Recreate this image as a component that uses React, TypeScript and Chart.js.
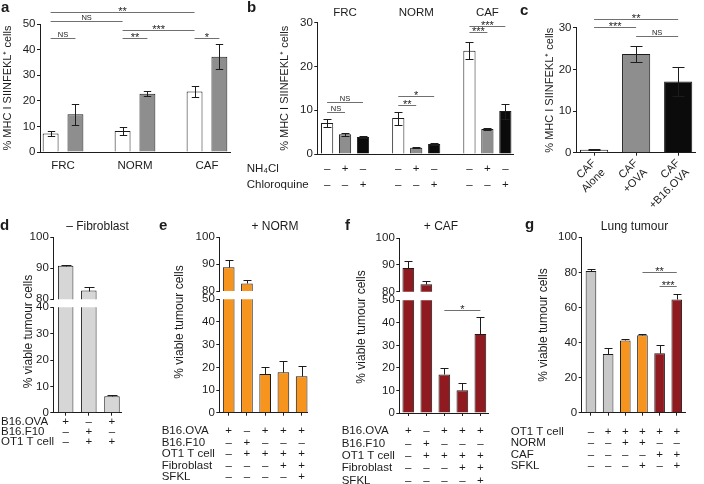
import React, { useEffect, useRef } from 'react';
import { Chart, registerables } from 'chart.js';

Chart.register(...registerables);

const FONT = "'Liberation Sans', Arial, Helvetica, sans-serif";
const INK = '#1c1c1c';
const SIG_INK = '#707070';
Chart.defaults.font.family = FONT;
Chart.defaults.color = INK;

const WHITE = '#ffffff';
const GREY = '#8e8e8e';
const BLACK = '#0b0b0b';
const LIGHT = '#d6d6d6';
const GREY_G = '#c8c8c8';
const ORANGE = '#f7941d';
const RED = '#8f1b20';

// ---------------- DATA ----------------
const MHC_TITLE = '% MHC I SIINFEKL\u207A cells';
const VIABLE_TITLE = '% viable tumour cells';

// a
const aCategories = ['FRC', 'NORM', 'CAF'];
const aYTicks = [0, 10, 20, 30, 40, 50];
const aControl = [7.2, 8.2, 23.6];
const aControlErr = [1.1, 1.5, 2.0];
const aOva = [14.7, 22.8, 37.2];
const aOvaErr = [4.0, 0.85, 4.8];
const aSig = [
  { from: [0, 0], to: [1, 0], y: 44.4, label: 'NS' },
  { from: [0, 1], to: [1, 1], y: 44.4, label: '**' },
  { from: [0, 2], to: [1, 2], y: 44.4, label: '*' },
  { from: [0, 1], to: [0, 2], y: 47.7, label: '***' },
  { from: [0, 0], to: [0, 1], y: 51.2, label: 'NS' },
  { from: [0, 0], to: [0, 2], y: 54.6, label: '**' },
];

// b
const bGroups = ['FRC', 'NORM', 'CAF'];
const bYTicks = [0, 10, 20, 30];
const bUntreated = [7.1, 8.2, 23.6];
const bUntreatedErr = [1.0, 1.5, 2.0];
const bNH4Cl = [4.5, 1.4, 5.7];
const bNH4ClErr = [0.3, 0.1, 0.15];
const bChloroquine = [3.9, 2.3, 9.8];
const bChloroquineErr = [0.15, 0.2, 1.7];
const bNH4ClSigns = ['\u2013', '+', '\u2013'];
const bChloroquineSigns = ['\u2013', '\u2013', '+'];
const bSig = [
  { from: [0, 0], to: [1, 0], y: 9.5, label: 'NS' },
  { from: [0, 0], to: [2, 0], y: 11.8, label: 'NS' },
  { from: [0, 1], to: [1, 1], y: 11.3, label: '**' },
  { from: [0, 1], to: [2, 1], y: 13.3, label: '*' },
  { from: [0, 2], to: [1, 2], y: 27.9, label: '***' },
  { from: [0, 2], to: [2, 2], y: 29.3, label: '***' },
];

// c
const cLabels = [['CAF', 'Alone'], ['CAF', '+OVA'], ['CAF', '+B16.OVA']];
const cYTicks = [0, 10, 20, 30];
const cValues = [0.7, 23.7, 17.1];
const cErr = [0.15, 2.0, 3.5];
const cSig = [
  { from: [0, 0], to: [0, 1], y: 30.1, label: '***' },
  { from: [0, 0], to: [0, 2], y: 32.2, label: '**' },
  { from: [0, 1], to: [0, 2], y: 28.1, label: 'NS' },
];

// d
const dTopTicks = [80, 90, 100];
const dBottomTicks = [0, 10, 20, 30, 40];
const dValues = [90.8, 82.8, 6.2];
const dErr = [0.3, 1.2, 0.5];
const dRows = [
  { label: 'B16.OVA', signs: ['+', '\u2013', '+'] },
  { label: 'B16.F10', signs: ['\u2013', '+', '\u2013'] },
  { label: 'OT1 T cell', signs: ['\u2013', '+', '+'] },
];

// e
const eTopTicks = [80, 90, 100];
const eBottomTicks = [0, 10, 20, 30, 40, 50];
const eValues = [88.8, 82.8, 17.1, 17.8, 16.1];
const eErr = [2.6, 1.3, 2.9, 4.8, 4.6];
const efRows = [
  { label: 'B16.OVA', signs: ['+', '\u2013', '+', '+', '+'] },
  { label: 'B16.F10', signs: ['\u2013', '+', '\u2013', '\u2013', '\u2013'] },
  { label: 'OT1 T cell', signs: ['\u2013', '+', '+', '+', '+'] },
  { label: 'Fibroblast', signs: ['\u2013', '\u2013', '\u2013', '+', '+'] },
  { label: 'SFKL', signs: ['\u2013', '\u2013', '\u2013', '\u2013', '+'] },
];

// f
const fValues = [88.8, 82.8, 17.1, 10.1, 35.1];
const fErr = [2.6, 1.3, 2.9, 3.3, 7.4];
const fSig = [{ from: [0, 2], to: [0, 4], y: 45.8, label: '*' }];

// g
const gYTicks = [0, 20, 40, 60, 80, 100];
const gValues = [80.8, 33.5, 41.2, 44.1, 33.9, 64.6];
const gErr = [1.2, 3.2, 1.0, 0.7, 4.9, 2.9];
const gColors = [GREY_G, GREY_G, ORANGE, ORANGE, RED, RED];
const gRows = [
  { label: 'OT1 T cell', signs: ['\u2013', '+', '+', '+', '+', '+'] },
  { label: 'NORM', signs: ['\u2013', '\u2013', '+', '+', '\u2013', '\u2013'] },
  { label: 'CAF', signs: ['\u2013', '\u2013', '\u2013', '\u2013', '+', '+'] },
  { label: 'SFKL', signs: ['\u2013', '\u2013', '\u2013', '+', '\u2013', '+'] },
];
const gSig = [
  { from: [0, 3], to: [0, 5], y: 80, label: '**' },
  { from: [0, 4], to: [0, 5], y: 72.2, label: '***' },
];

// ---------------- PLUGINS ----------------
type BarRef = number[];
type Sig = { from: BarRef; to: BarRef; y: number; label: string };
type Row = { label: string; signs: string[] };

const barX = (chart: any, r: BarRef) => chart.getDatasetMeta(r[0]).data[r[1]].x;

const errorBarPlugin = (errs: number[][], capHalf: number, both: boolean) => ({
  id: 'errorBars',
  afterDatasetsDraw(chart: any) {
    const ctx = chart.ctx;
    ctx.save();
    ctx.strokeStyle = INK;
    ctx.lineWidth = 1;
    chart.data.datasets.forEach((ds: any, di: number) => {
      const meta = chart.getDatasetMeta(di);
      const ys = chart.scales[meta.yAxisID];
      ds.data.forEach((v: number, i: number) => {
        const e = errs[di][i];
        if (v < ys.min || v > ys.max) return;
        const x = Math.round(meta.data[i].x) + 0.5;
        const yTop = Math.round(ys.getPixelForValue(v + e)) + 0.5;
        const yBot = Math.round(ys.getPixelForValue(both ? v - e : v)) + 0.5;
        ctx.beginPath();
        ctx.moveTo(x, yBot);
        ctx.lineTo(x, yTop);
        ctx.moveTo(x - capHalf, yTop);
        ctx.lineTo(x + capHalf, yTop);
        if (both) {
          ctx.moveTo(x - capHalf, yBot);
          ctx.lineTo(x + capHalf, yBot);
        }
        ctx.stroke();
      });
    });
    ctx.restore();
  },
});

const sigPlugin = (sigs: Sig[], nsSize = 7.5, starSize = 11) => ({
  id: 'sig',
  afterDraw(chart: any) {
    const ctx = chart.ctx;
    ctx.save();
    sigs.forEach((s) => {
      const ys = chart.scales.y;
      const y = Math.round(ys.getPixelForValue(s.y)) + 0.5;
      const xa = barX(chart, s.from);
      const xb = barX(chart, s.to);
      ctx.strokeStyle = SIG_INK;
      ctx.lineWidth = 1;
      ctx.beginPath();
      ctx.moveTo(xa, y);
      ctx.lineTo(xb, y);
      ctx.stroke();
      const star = s.label.includes('*');
      ctx.fillStyle = INK;
      ctx.font = `${star ? starSize : nsSize}px ${FONT}`;
      ctx.textAlign = 'center';
      ctx.textBaseline = 'alphabetic';
      ctx.fillText(s.label, (xa + xb) / 2, y + (star ? 2.5 : -1.5));
    });
    ctx.restore();
  },
});

const tablePlugin = (rows: Row[], order: BarRef[], labelX: number, firstRow: number, gap: number, size: number) => ({
  id: 'table',
  afterDraw(chart: any) {
    const ctx = chart.ctx;
    ctx.save();
    ctx.fillStyle = INK;
    ctx.textBaseline = 'middle';
    ctx.font = `${size}px ${FONT}`;
    const base = chart.chartArea.bottom;
    rows.forEach((r, ri) => {
      const y = base + firstRow + ri * gap;
      ctx.textAlign = 'left';
      ctx.fillText(r.label, labelX, y);
      ctx.textAlign = 'center';
      r.signs.forEach((s, k) => {
        ctx.fillText(s, barX(chart, order[k]), y);
      });
    });
    ctx.restore();
  },
});

const groupTitlePlugin = (names: string[], y: number, size: number) => ({
  id: 'groupTitles',
  afterDraw(chart: any) {
    const ctx = chart.ctx;
    ctx.save();
    ctx.fillStyle = INK;
    ctx.textBaseline = 'middle';
    ctx.textAlign = 'center';
    ctx.font = `${size}px ${FONT}`;
    names.forEach((n, i) => ctx.fillText(n, chart.scales.x.getPixelForValue(i), y));
    ctx.restore();
  },
});

// y-axis title shared by the two halves of a broken axis
const vTitlePlugin = (text: string, cx: number, cy: number, size: number) => ({
  id: 'vTitle',
  afterDraw(chart: any) {
    const ctx = chart.ctx;
    ctx.save();
    ctx.fillStyle = INK;
    ctx.font = `${size}px ${FONT}`;
    ctx.translate(cx, cy);
    ctx.rotate(-Math.PI / 2);
    ctx.textAlign = 'center';
    ctx.textBaseline = 'middle';
    ctx.fillText(text, 0, 0);
    ctx.restore();
  },
});

// ---------------- CONFIG BUILDER ----------------
const idx = (arr: any[]) => arr.map((_, i) => i);

function makeBar(o: any) {
  const yTicks: number[] = o.yTicks;
  return {
    type: 'bar',
    data: { labels: o.labels, datasets: o.datasets },
    options: {
      responsive: false,
      animation: false,
      devicePixelRatio: 1,
      events: [],
      layout: { padding: o.pad },
      plugins: { legend: { display: false }, tooltip: { enabled: false } },
      scales: {
        x: {
          type: 'linear',
          min: o.xMin,
          max: o.xMax,
          offset: false,
          display: o.xDisplay !== false,
          afterBuildTicks: (s: any) => {
            s.ticks = o.labels.map((v: number) => ({ value: v }));
          },
          afterFit: (s: any) => {
            s.height = o.xHeight;
            s.paddingLeft = 0;
            s.paddingRight = 0;
          },
          grid: {
            display: !!o.xTickMarks,
            offset: false,
            drawOnChartArea: false,
            drawTicks: true,
            tickLength: 3,
            color: INK,
          },
          border: { display: true, color: INK, width: 1 },
          ticks: {
            display: !!o.xLabel,
            callback: (v: number) => (o.xLabel ? o.xLabel(v) : ''),
            font: { size: o.xFont || 11 },
            color: INK,
            padding: o.xPad ?? 4,
            minRotation: o.xRot || 0,
            maxRotation: o.xRot || 0,
            autoSkip: false,
          },
        },
        y: {
          type: 'linear',
          min: yTicks[0],
          max: yTicks[yTicks.length - 1],
          afterBuildTicks: (s: any) => {
            s.ticks = yTicks.map((v) => ({ value: v }));
          },
          afterFit: (s: any) => {
            s.width = o.yWidth;
            s.paddingTop = 0;
            s.paddingBottom = 0;
          },
          grid: { display: true, drawOnChartArea: false, drawTicks: true, tickLength: 3, color: INK },
          border: { display: true, color: INK, width: 1 },
          ticks: { font: { size: o.font }, color: INK, padding: 1.5 },
          title: o.yTitle
            ? { display: true, text: o.yTitle, font: { size: o.titleFont || o.font }, color: INK, padding: { top: o.titlePad, bottom: 0 } }
            : { display: false },
        },
      },
    },
    plugins: o.plugins || [],
  };
}

const bar = (data: number[], color: any, clip: any = false, label = '') => ({
  label,
  data,
  backgroundColor: color,
  borderColor: INK,
  borderWidth: 1,
  categoryPercentage: 1,
  barPercentage: 0.67,
  clip,
});

const CLIP_TOP_PART = { top: false, left: false, right: false, bottom: 0 };
const CLIP_BOTTOM_PART = { top: 0, left: false, right: false, bottom: false };

// ---------------- PANELS ----------------
type Item = { box: { x: number; y: number; w: number; h: number }; make: () => any };

const panelA: Item = {
  box: { x: 0, y: 0, w: 240, h: 180 },
  make: () =>
    makeBar({
      labels: idx(aCategories),
      datasets: [
        { ...bar(aControl, WHITE, false, 'Control'), categoryPercentage: 0.69, barPercentage: 0.64 },
        { ...bar(aOva, GREY, false, 'OVA'), categoryPercentage: 0.69, barPercentage: 0.64 },
      ],
      xMin: -0.32,
      xMax: 2.32,
      yTicks: aYTicks,
      pad: { left: 0, top: 24, right: 10, bottom: 8 },
      yWidth: 40,
      xHeight: 20,
      xLabel: (v: number) => aCategories[v],
      xFont: 11.5,
      xPad: 4,
      font: 11.5,
      titleFont: 11,
      yTitle: MHC_TITLE,
      titlePad: 1.1,
      plugins: [errorBarPlugin([aControlErr, aOvaErr], 3.7, true), sigPlugin(aSig as Sig[])],
    }),
};

const bOrder: BarRef[] = [];
bGroups.forEach((_, g) => [0, 1, 2].forEach((d) => bOrder.push([d, g])));
const bRows: Row[] = [
  { label: 'NH\u2084Cl', signs: bGroups.flatMap(() => bNH4ClSigns) },
  { label: 'Chloroquine', signs: bGroups.flatMap(() => bChloroquineSigns) },
];

const panelB: Item = {
  box: { x: 240, y: 0, w: 280, h: 200 },
  make: () =>
    makeBar({
      labels: idx(bGroups),
      datasets: [
        { ...bar(bUntreated, WHITE, false, 'Untreated'), categoryPercentage: 0.757, barPercentage: 0.68 },
        { ...bar(bNH4Cl, GREY, false, 'NH4Cl'), categoryPercentage: 0.757, barPercentage: 0.68 },
        { ...bar(bChloroquine, BLACK, false, 'Chloroquine'), categoryPercentage: 0.757, barPercentage: 0.68 },
      ],
      xMin: -0.39,
      xMax: 2.36,
      yTicks: bYTicks,
      pad: { left: 37.4, top: 22.7, right: 7, bottom: 40 },
      yWidth: 39.9,
      xHeight: 6,
      font: 11.5,
      titleFont: 11,
      yTitle: MHC_TITLE,
      titlePad: 0.7,
      plugins: [
        errorBarPlugin([bUntreatedErr, bNH4ClErr, bChloroquineErr], 4, true),
        sigPlugin(bSig as Sig[]),
        tablePlugin(bRows, bOrder, 6.7, 14.7, 16.6, 11.5),
        groupTitlePlugin(bGroups, 13, 11.5),
      ],
    }),
};

const panelC: Item = {
  box: { x: 520, y: 0, w: 184, h: 230 },
  make: () =>
    makeBar({
      labels: idx(cLabels),
      datasets: [{ ...bar(cValues, [WHITE, GREY, BLACK], false, 'CAF'), barPercentage: 0.67 }],
      xMin: -0.43,
      xMax: 2.4,
      yTicks: cYTicks,
      pad: { left: 22.4, top: 27.7, right: 9, bottom: 17.3 },
      yWidth: 33.6,
      xHeight: 60,
      xTickMarks: true,
      xLabel: (v: number) => cLabels[v],
      xFont: 11,
      xPad: 1,
      xRot: 45,
      font: 11.5,
      titleFont: 11,
      yTitle: MHC_TITLE,
      titlePad: 0.7,
      plugins: [errorBarPlugin([cErr], 6, true), sigPlugin(cSig as Sig[])],
    }),
};

function brokenPanel(p: any): Item[] {
  const common = {
    labels: idx(p.values),
    xMin: p.xMin,
    xMax: p.xMax,
    yWidth: p.yWidth,
    font: 11.5,
  };
  const ds = (clip: any) => [{ ...bar(p.values, p.color, clip, 'viable'), barPercentage: p.barPct }];
  const order = p.values.map((_: number, i: number) => [0, i]);
  return [
    {
      box: p.box,
      make: () =>
        makeBar({
          ...common,
          datasets: ds(CLIP_TOP_PART),
          yTicks: p.topTicks,
          pad: p.topPad,
          xDisplay: false,
          xHeight: 0,
          plugins: [errorBarPlugin([p.err], p.cap, false)],
        }),
    },
    {
      box: p.box,
      make: () =>
        makeBar({
          ...common,
          datasets: ds(CLIP_BOTTOM_PART),
          yTicks: p.bottomTicks,
          pad: p.bottomPad,
          xHeight: 4,
          xTickMarks: true,
          plugins: [
            errorBarPlugin([p.err], p.cap, false),
            tablePlugin(p.rows, order, p.labelX, p.firstRow, p.gap, 11.5),
            vTitlePlugin(VIABLE_TITLE, p.titleX, p.titleY, 12),
            ...(p.sig ? [sigPlugin(p.sig)] : []),
          ],
        }),
    },
  ];
}

const panelD = brokenPanel({
  values: dValues,
  err: dErr,
  color: LIGHT,
  rows: dRows,
  topTicks: dTopTicks,
  bottomTicks: dBottomTicks,
  xMin: -0.534,
  xMax: 2.42,
  yWidth: 53.3,
  barPct: 0.67,
  cap: 5,
  box: { x: 0, y: 226, w: 130, h: 258 },
  topPad: { left: 0, top: 11, right: 8.3, bottom: 184.7 },
  bottomPad: { left: 0, top: 81.3, right: 8.3, bottom: 67.3 },
  labelX: 1,
  firstRow: 9.5,
  gap: 10,
  titleX: 29,
  titleY: 105.5,
});

const panelE = brokenPanel({
  values: eValues,
  err: eErr,
  color: ORANGE,
  rows: efRows,
  topTicks: eTopTicks,
  bottomTicks: eBottomTicks,
  xMin: -0.515,
  xMax: 4.31,
  yWidth: 30,
  barPct: 0.64,
  cap: 4,
  box: { x: 155, y: 226, w: 155, h: 258 },
  topPad: { left: 34.3, top: 11, right: 2.7, bottom: 193 },
  bottomPad: { left: 34.3, top: 73.3, right: 2.7, bottom: 67.3 },
  labelX: 6.7,
  firstRow: 18.6,
  gap: 11.4,
  titleX: 25,
  titleY: 96,
});

const panelF = brokenPanel({
  values: fValues,
  err: fErr,
  color: RED,
  rows: efRows,
  topTicks: eTopTicks,
  bottomTicks: eBottomTicks,
  xMin: -0.5,
  xMax: 4.44,
  yWidth: 30,
  barPct: 0.65,
  cap: 4,
  box: { x: 335, y: 226, w: 160, h: 258 },
  topPad: { left: 34.3, top: 12, right: 6.7, bottom: 192.3 },
  bottomPad: { left: 34.3, top: 74.3, right: 6.7, bottom: 67 },
  labelX: 6.7,
  firstRow: 18.3,
  gap: 12.3,
  titleX: 26.7,
  titleY: 101,
  sig: fSig,
});

const panelG: Item = {
  box: { x: 505, y: 226, w: 199, h: 258 },
  make: () =>
    makeBar({
      labels: idx(gValues),
      datasets: [{ ...bar(gValues, gColors, false, 'viable'), barPercentage: 0.62 }],
      xMin: -0.54,
      xMax: 5.48,
      yTicks: gYTicks,
      pad: { left: 31.1, top: 11.3, right: 19, bottom: 67.3 },
      yWidth: 45.6,
      xHeight: 4,
      xTickMarks: true,
      font: 11.5,
      titleFont: 12,
      yTitle: VIABLE_TITLE,
      titlePad: 0,
      plugins: [
        errorBarPlugin([gErr], 4, false),
        tablePlugin(gRows, gValues.map((_, i) => [0, i]), 5.7, 19.3, 11.2, 11.5),
        sigPlugin(gSig as Sig[]),
      ],
    }),
};

const ITEMS: Item[] = [panelA, panelB, panelC, ...panelD, ...panelE, ...panelF, panelG];

// ---------------- HTML TEXT ----------------
const LETTERS = [
  { t: 'a', x: 1, b: 12 },
  { t: 'b', x: 247, b: 12 },
  { t: 'c', x: 520, b: 14.5 },
  { t: 'd', x: 0, b: 229.5 },
  { t: 'e', x: 159, b: 229.5 },
  { t: 'f', x: 345, b: 229.5 },
  { t: 'g', x: 525, b: 229 },
];
const TITLES = [
  { t: '\u2013 Fibroblast', x: 97.5, b: 230.5 },
  { t: '+ NORM', x: 275, b: 230.5 },
  { t: '+ CAF', x: 441, b: 230.5 },
  { t: 'Lung tumour', x: 634.5, b: 230.5 },
];

function ChartCanvas({ item }: { item: Item }) {
  const ref = useRef<HTMLCanvasElement>(null);
  useEffect(() => {
    const chart = new Chart(ref.current as HTMLCanvasElement, item.make());
    return () => chart.destroy();
  }, []);
  const { x, y, w, h } = item.box;
  return (
    <canvas
      ref={ref}
      width={w}
      height={h}
      style={{ position: 'absolute', left: x, top: y, width: w, height: h }}
    />
  );
}

function Txt({ t, x, b, size, bold, center }: any) {
  return (
    <div
      style={{
        position: 'absolute',
        left: x,
        top: b - 0.8465 * size,
        fontSize: size,
        lineHeight: `${size}px`,
        fontWeight: bold ? 700 : 400,
        whiteSpace: 'nowrap',
        transform: center ? 'translateX(-50%)' : undefined,
      }}
    >
      {t}
    </div>
  );
}

export default function App() {
  return (
    <div
      style={{
        position: 'absolute',
        left: 0,
        top: 0,
        width: 704,
        height: 484,
        background: '#ffffff',
        overflow: 'hidden',
        fontFamily: FONT,
        color: INK,
      }}
    >
      {ITEMS.map((it, i) => (
        <ChartCanvas key={i} item={it} />
      ))}
      {LETTERS.map((l) => (
        <Txt key={l.t} t={l.t} x={l.x} b={l.b} size={15} bold />
      ))}
      {TITLES.map((l) => (
        <Txt key={l.t} t={l.t} x={l.x} b={l.b} size={12} center />
      ))}
    </div>
  );
}
